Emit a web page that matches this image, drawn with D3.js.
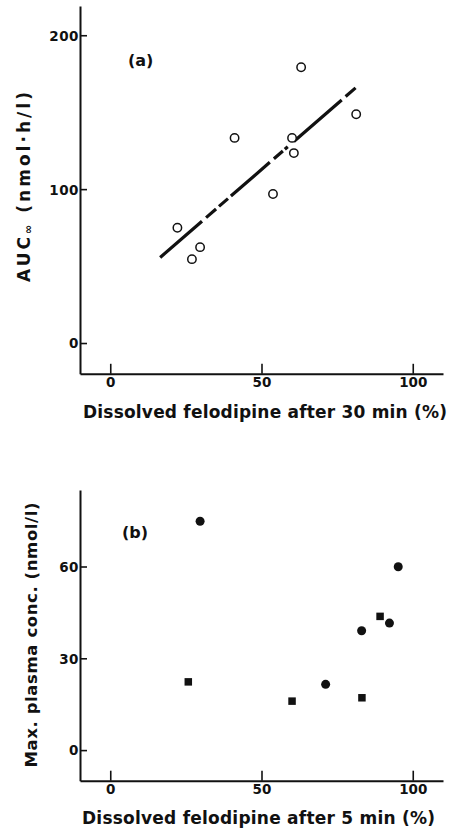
<!DOCTYPE html>
<html>
<head>
<meta charset="utf-8">
<script src="https://cdn.jsdelivr.net/npm/d3@7"></script>
<style>
  html, body { margin: 0; padding: 0; background: #fff; }
  svg { display: block; }
  text { font-family: "DejaVu Sans", sans-serif; fill: #111; }
</style>
</head>
<body>
<svg id="chart" width="453" height="832"></svg>
<script>
// ---------- Data ----------
// Panel (a): dissolved after 30 min (%) vs AUC∞ (nmol·h/l)
const aX = [22.2, 27.0, 29.7, 41.1, 53.8, 60.1, 60.7, 63.1, 81.3];
const aY = [74.9, 54.5, 62.3, 133.3, 96.8, 133.3, 123.4, 179.2, 148.7];
// regression line end points
const fitX = [16.5, 81.1];
const fitY = [55.6, 165.8];

// Panel (b): dissolved after 5 min (%) vs max plasma conc. (nmol/l)
const bCircleX = [29.7, 71.2, 83.1, 92.3, 95.2];
const bCircleY = [74.8, 21.5, 39.0, 41.5, 59.9];
const bSquareX = [25.8, 60.1, 83.2, 89.2];
const bSquareY = [22.3, 16.0, 17.1, 43.7];

const xTicks = [0, 50, 100];
const aYTicks = [0, 100, 200];
const bYTicks = [0, 30, 60];

// ---------- Drawing ----------
const svg = d3.select("#chart");

function axes(g, x, y, yTicks) {
  const xa = d3.axisBottom(x).tickValues(xTicks).tickSize(-10).tickSizeOuter(0).tickPadding(4).tickFormat(d3.format("d"));
  const ya = d3.axisLeft(y).tickValues(yTicks).tickSize(-7).tickSizeOuter(0).tickPadding(1).tickFormat(d3.format("d"));
  const gx = g.append("g").attr("transform", `translate(0,${y.range()[0]})`).call(xa);
  const gy = g.append("g").attr("transform", `translate(${x.range()[0]},0)`).call(ya);
  [gx, gy].forEach(a => {
    a.select(".domain").attr("stroke", "#111").attr("stroke-width", 2);
    a.selectAll(".tick line").attr("stroke", "#111").attr("stroke-width", 1.6);
    a.selectAll(".tick text").attr("fill", "#111").style("font-size", "13.5px")
      .style("font-weight", "bold").style("font-family", "DejaVu Sans, sans-serif");
  });
  gy.selectAll(".tick text").attr("dy", "0.36em").style("letter-spacing", "0.5px");
}

// ----- Panel (a) -----
const xA = d3.scaleLinear().domain([-10, 110]).range([80, 443]);
const yA = d3.scaleLinear().domain([-20, 219]).range([373.8, 6]);
const ga = svg.append("g");
axes(ga, xA, yA, aYTicks);

// dashed regression line (irregular dash pattern as fractions of length)
const dashFrac = [.214, .021, .051, .015, .046, .015, .199, .021, .046, .010, .015, .031, .245, .020, .051];
const fitPts = fitX.map((d, i) => [d, fitY[i]]);
const fitPath = ga.append("path")
  .attr("d", d3.line().x(d => xA(d[0])).y(d => yA(d[1]))(fitPts))
  .attr("fill", "none").attr("stroke", "#111").attr("stroke-width", 3.2);
const L = fitPath.node().getTotalLength();
fitPath.attr("stroke-dasharray", dashFrac.map(f => (f * L).toFixed(2)).join(" "));

ga.selectAll("circle.pt").data(aX.map((d, i) => [d, aY[i]])).join("circle")
  .attr("class", "pt")
  .attr("cx", d => xA(d[0])).attr("cy", d => yA(d[1])).attr("r", 4.2)
  .attr("fill", "#fff").attr("stroke", "#111").attr("stroke-width", 1.5);

ga.append("text").attr("x", 128).attr("y", 60).attr("dominant-baseline", "central")
  .style("font-size", "16px").style("font-weight", "bold").text("(a)");

ga.append("text")
  .attr("transform", "translate(24,187) rotate(-90)")
  .attr("text-anchor", "middle").attr("dominant-baseline", "central")
  .attr("textLength", 190).attr("lengthAdjust", "spacing")
  .style("font-size", "17px").style("font-weight", "bold")
  .call(t => {
    t.append("tspan").text("AUC");
    t.append("tspan").attr("dy", "4").style("font-size", "11px").text("∞");
    t.append("tspan").attr("dy", "-4").text(" (nmol·h/l)");
  });

ga.append("text").attr("x", 265).attr("y", 412).attr("text-anchor", "middle")
  .attr("dominant-baseline", "central")
  .attr("textLength", 364).attr("lengthAdjust", "spacing")
  .style("font-size", "17px").style("font-weight", "bold")
  .text("Dissolved felodipine after 30 min (%)");

// ----- Panel (b) -----
const xB = d3.scaleLinear().domain([-10, 110]).range([80, 443]);
const yB = d3.scaleLinear().domain([-10, 85]).range([780.7, 490]);
const gb = svg.append("g");
axes(gb, xB, yB, bYTicks);

gb.selectAll("circle.pt").data(bCircleX.map((d, i) => [d, bCircleY[i]])).join("circle")
  .attr("class", "pt")
  .attr("cx", d => xB(d[0])).attr("cy", d => yB(d[1])).attr("r", 4.5)
  .attr("fill", "#111");

const sq = 7.5;
gb.selectAll("rect.pt").data(bSquareX.map((d, i) => [d, bSquareY[i]])).join("rect")
  .attr("class", "pt")
  .attr("x", d => xB(d[0]) - sq / 2).attr("y", d => yB(d[1]) - sq / 2)
  .attr("width", sq).attr("height", sq).attr("fill", "#111");

gb.append("text").attr("x", 122).attr("y", 532).attr("dominant-baseline", "central")
  .style("font-size", "16px").style("font-weight", "bold").text("(b)");

gb.append("text")
  .attr("transform", "translate(31,635) rotate(-90)")
  .attr("text-anchor", "middle").attr("dominant-baseline", "central")
  .attr("textLength", 265).attr("lengthAdjust", "spacing")
  .style("font-size", "16.5px").style("font-weight", "bold")
  .text("Max. plasma conc. (nmol/l)");

gb.append("text").attr("x", 258.5).attr("y", 818).attr("text-anchor", "middle")
  .attr("dominant-baseline", "central")
  .attr("textLength", 353).attr("lengthAdjust", "spacing")
  .style("font-size", "17px").style("font-weight", "bold")
  .text("Dissolved felodipine after 5 min (%)");
</script>
</body>
</html>
